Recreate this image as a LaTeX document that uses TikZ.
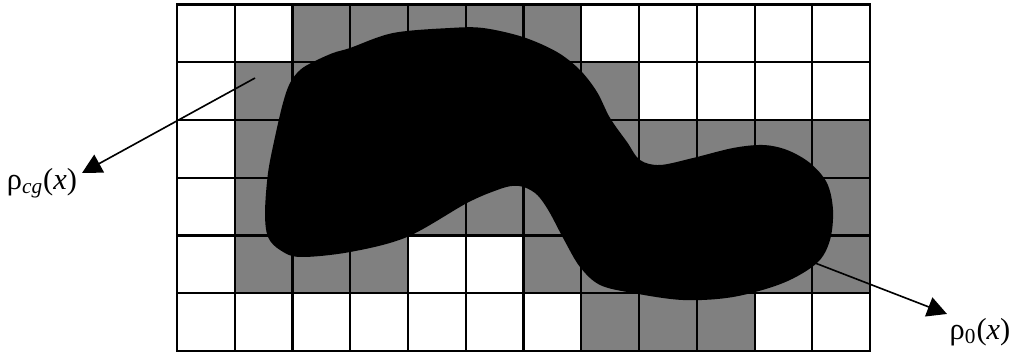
\documentclass[tikz,border=0pt]{standalone}
\usepackage{fontspec}
\setmainfont{Liberation Serif}
\usepackage{tikz}
\usetikzlibrary{arrows.meta}

\tikzset{
  cell/.style={fill=black!50},
  pointer/.style={line width=0.8pt,-{Triangle[length=3.4mm,width=3.5mm]}},
  density/.style={font=\fontsize{15}{18}\selectfont,inner sep=0pt}
}

\begin{document}
\begin{tikzpicture}
\useasboundingbox (-3.065,-0.035) rectangle (14.580,6.078);
% coarse grained cells
\fill[cell] (2,5) rectangle (7,6);
\fill[cell] (1,4) rectangle (8,5);
\fill[cell] (1,2) rectangle (12,4);
\fill[cell] (1,1) rectangle (4,2);
\fill[cell] (6,1) rectangle (12,2);
\fill[cell] (7,0) rectangle (10,1);
\draw[step=1cm,black,line width=1pt] (0,0) grid (12,6);
\draw[line width=1.2pt] (0,0) rectangle (12,6);
% the body
\fill[black] plot[smooth cycle,tension=0.55] coordinates {
  (1.957,4.641) (2.130,4.866) (2.355,5.004) (2.701,5.160) (2.996,5.247)
  (3.740,5.506) (4.727,5.593) (5.299,5.593) (5.991,5.437) (6.580,5.177)
  (6.978,4.866) (7.273,4.485) (7.498,4.035) (7.792,3.619) (8.017,3.307)
  (8.364,3.221) (8.935,3.342) (9.628,3.515) (10.147,3.567) (10.563,3.481)
  (10.961,3.255) (11.255,2.909) (11.359,2.442) (11.307,1.922) (11.082,1.524)
  (10.494,1.177) (9.628,0.935) (8.762,0.883) (7.896,1.004) (7.325,1.143)
  (6.978,1.455) (6.70,1.93) (6.44,2.42) (6.24,2.70) (6.03,2.83) (5.82,2.86)
  (5.55,2.79) (5.022,2.563)
  (3.983,1.974) (2.996,1.714) (2.130,1.628) (1.784,1.749) (1.576,1.974)
  (1.524,2.390) (1.576,3.082) (1.697,3.706) (1.835,4.294)};
% labels
\coordinate (cgfrom) at (1.351,4.727);
\coordinate (cgto) at (-1.645,3.082);
\coordinate (zerofrom) at (11.048,1.524);
\coordinate (zeroto) at (13.333,0.641);
\node[density] (rhocg) at (-2.338,2.909) {ρ\textsubscript{\textit{cg}}(\textit{x})};
\node[density] (rhozero) at (13.905,0.329) {ρ\textsubscript{0}(\textit{x})};
\draw[pointer] (cgfrom) -- (cgto);
\draw[pointer] (zerofrom) -- (zeroto);
\end{tikzpicture}
\end{document}
